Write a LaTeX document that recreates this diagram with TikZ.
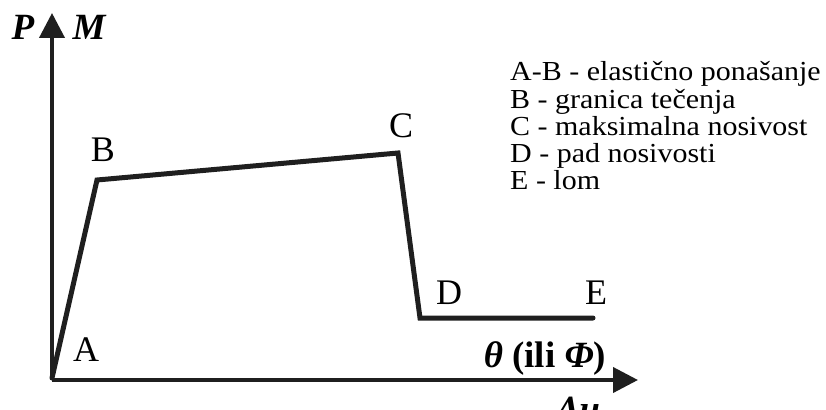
\documentclass[tikz,border=0pt]{standalone}
\usepackage{fontspec}
\setmainfont{Liberation Serif}
\newfontfamily\legfont[FakeStretch=1.09]{Liberation Serif}
\usetikzlibrary{arrows.meta}
\begin{document}
\begin{tikzpicture}[x=1pt,y=-1pt,
  axis/.style={line width=4pt,-{Triangle[length=25pt,width=25pt]}},
  curve/.style={line width=5pt,line join=miter,line cap=round,color=black!88},
  pt/.style={font=\fontsize{36}{36}\selectfont,inner sep=0pt},
  axlab/.style={font=\fontsize{37}{37}\selectfont\bfseries,inner sep=0pt,anchor=base},
  leg/.style={font=\legfont\fontsize{27.5}{27}\selectfont,inner sep=0pt,anchor=base west}]
\useasboundingbox (0,0) rectangle (826,409);
\coordinate (O) at (52,380);
\coordinate (Ytip) at (52,13);
\coordinate (Xtip) at (638,380);
\draw[axis,black!88] (O) -- (Ytip);
\draw[axis,black!88] (O) -- (Xtip);
\coordinate (A) at (52,378);
\coordinate (B) at (97,180);
\coordinate (C) at (398,153);
\coordinate (D) at (420,318);
\coordinate (E) at (593,318);
\draw[curve] (A) -- (B) -- (C) -- (D) -- (E);
\node[pt] (lA) at (86,350) {A};
\node[pt] (lB) at (103,150) {B};
\node[pt] (lC) at (401,126) {C};
\node[pt] (lD) at (449,293) {D};
\node[pt] (lE) at (596,293) {E};
\node[axlab] (P) at (23,40) {\itshape P};
\node[axlab] (M) at (89,40) {\itshape M};
\node[axlab] (th) at (545,367) {\textit{θ} (ili \textit{Φ})};
\node[axlab] (du) at (578,421) {\itshape Δu};
\node[leg] (l1) at (510,81) {A-B - elastično ponašanje};
\node[leg] (l2) at (510,108) {B - granica tečenja};
\node[leg] (l3) at (510,135) {C - maksimalna nosivost};
\node[leg] (l4) at (510,162) {D - pad nosivosti};
\node[leg] (l5) at (510,189) {E - lom};
\end{tikzpicture}
\end{document}
